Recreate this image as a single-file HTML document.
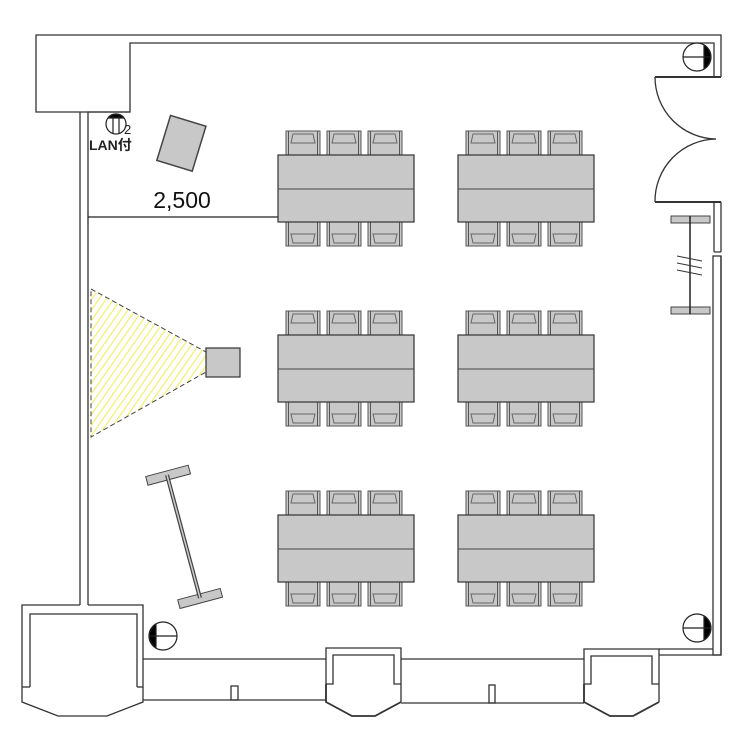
<!DOCTYPE html>
<html><head><meta charset="utf-8"><style>html,body{margin:0;padding:0;background:#fff}svg{display:block}</style></head><body>
<svg width="750" height="750" viewBox="0 0 750 750" xmlns="http://www.w3.org/2000/svg">
<defs>
<pattern id="hatch" width="6" height="6" patternUnits="userSpaceOnUse" patternTransform="rotate(35)">
<rect width="6" height="6" fill="#fff"/><line x1="0" y1="0" x2="0" y2="6" stroke="#f4ef70" stroke-width="2.5"/></pattern>
<g id="chairT">
<rect x="0" y="0" width="34" height="25" fill="#c8c8c8" stroke="#555" stroke-width="1"/>
<line x1="2.5" y1="0" x2="2.5" y2="25" stroke="#555" stroke-width="1"/><line x1="31.5" y1="0" x2="31.5" y2="25" stroke="#555" stroke-width="1"/>
<path d="M5,12 L7,3 L27,3 L29,12 Z" fill="none" stroke="#666" stroke-width="1"/>
</g>
<g id="chairB">
<rect x="0" y="0" width="34" height="25" fill="#c8c8c8" stroke="#555" stroke-width="1"/>
<line x1="2.5" y1="0" x2="2.5" y2="25" stroke="#555" stroke-width="1"/><line x1="31.5" y1="0" x2="31.5" y2="25" stroke="#555" stroke-width="1"/>
<path d="M5,13 L7,22 L27,22 L29,13 Z" fill="none" stroke="#666" stroke-width="1"/>
</g>
<g id="tbl">
<use href="#chairT" x="8" y="-24"/><use href="#chairT" x="49" y="-24"/><use href="#chairT" x="90" y="-24"/>
<use href="#chairB" x="8" y="66"/><use href="#chairB" x="49" y="66"/><use href="#chairB" x="90" y="66"/>
<rect x="0" y="0" width="136" height="67" fill="#c8c8c8" stroke="#333" stroke-width="1.2"/>
<line x1="0" y1="34" x2="136" y2="34" stroke="#444"/>
</g>
</defs>
<g fill="none" stroke="#333" stroke-width="1.3">
<polyline points="130,112 36,112 36,35 721,35 721,77"/>
<polyline points="88,605 88,112 130,112 130,43 714,43 714,77"/>
<line x1="80" y1="112" x2="80" y2="605"/>
<line x1="655" y1="77" x2="721" y2="77" stroke-width="2"/>
<line x1="655" y1="202" x2="721" y2="202" stroke-width="2"/>
<path d="M655,77 A62,62 0 0 0 716,139"/>
<path d="M655,202 A62,62 0 0 1 716,139"/>
<rect x="714" y="202" width="7" height="50" rx="1"/>
<rect x="713" y="256" width="8" height="399"/>
<polyline points="80,605 22,605 22,702 58,716 107,716 143,702 143,605 88,605"/>
<polyline points="30,687 30,614 137,614 137,687"/>
<line x1="22" y1="687" x2="30" y2="687"/><line x1="137" y1="687" x2="143" y2="687"/>
<line x1="143" y1="659" x2="326" y2="659"/>
<line x1="143" y1="700" x2="326" y2="700"/>
<rect x="231" y="686" width="7" height="14"/>
<polyline points="326,700 326,648 401,648 401,702"/>
<polyline points="326,684 333,684 333,655 394,655 394,684 401,684"/>
<polyline points="326,684 326,702 352,716 375,716 401,702" stroke-width="1.8"/>
<line x1="401" y1="659" x2="584" y2="659"/>
<line x1="401" y1="703" x2="584" y2="703"/>
<rect x="489" y="685" width="6" height="18"/>
<polyline points="584,703 584,649 659,649 659,702"/>
<polyline points="584,684 591,684 591,656 652,656 652,684 659,684"/>
<polyline points="584,684 584,702 610,716 633,716 659,702" stroke-width="1.8"/>
<line x1="659" y1="649" x2="713" y2="649"/>
<polyline points="659,655 721,655 721,256"/>
</g>
<g stroke="#222" stroke-width="1.2">
<circle cx="697" cy="57" r="14" fill="#fff"/><path d="M704,45 A14,14 0 0 1 704,69 Z" fill="#000"/><line x1="683" y1="57" x2="711" y2="57"/>
<circle cx="697" cy="628" r="14" fill="#fff"/><path d="M704,616 A14,14 0 0 1 704,640 Z" fill="#000"/><line x1="683" y1="628" x2="711" y2="628"/>
<circle cx="163" cy="636" r="14" fill="#fff"/><path d="M156,624 A14,14 0 0 0 156,648 Z" fill="#000"/><line x1="149" y1="636" x2="177" y2="636"/>
<circle cx="116" cy="124" r="10" fill="#fff"/><path d="M108,118 A10,10 0 0 1 124,118 Z" fill="#000"/><line x1="113" y1="116" x2="113" y2="134"/><line x1="119" y1="116" x2="119" y2="134"/>
</g>
<text x="124" y="134" font-family="Liberation Sans, sans-serif" font-size="13" fill="#222">2</text>
<text x="89" y="150" font-family="Liberation Sans, 'Noto Sans CJK JP', sans-serif" font-size="14" font-weight="bold" fill="#222">LAN付</text>
<rect x="163" y="120" width="37" height="47" fill="#c8c8c8" stroke="#444" stroke-width="1.5" transform="rotate(17 182 143)"/>
<line x1="88" y1="217" x2="278" y2="217" stroke="#222" stroke-width="1.2"/>
<line x1="88" y1="210" x2="88" y2="225" stroke="#222"/>
<text x="182" y="208" text-anchor="middle" font-family="Liberation Sans, sans-serif" font-size="23" fill="#111">2,500</text>
<use href="#tbl" x="278" y="155"/><use href="#tbl" x="458" y="155"/>
<use href="#tbl" x="278" y="335"/><use href="#tbl" x="458" y="335"/>
<use href="#tbl" x="278" y="515"/><use href="#tbl" x="458" y="515"/>
<polygon points="91,289 206,352 206,372 91,437" fill="url(#hatch)" stroke="#444" stroke-dasharray="5,3"/>
<rect x="206" y="348" width="34" height="29" fill="#c8c8c8" stroke="#333" stroke-width="1.2"/>
<g transform="rotate(-15 167 475)"><rect x="146" y="471" width="44" height="9" fill="#c8c8c8" stroke="#444"/></g>
<g transform="rotate(-15 200 598)"><rect x="178" y="594" width="44" height="9" fill="#c8c8c8" stroke="#444"/></g>
<line x1="167" y1="475" x2="200" y2="598" stroke="#444" stroke-width="4"/>
<line x1="167" y1="475" x2="200" y2="598" stroke="#ccc" stroke-width="1.5"/>
<rect x="671" y="216" width="39" height="7" fill="#c8c8c8" stroke="#444"/>
<rect x="671" y="307" width="39" height="7" fill="#c8c8c8" stroke="#444"/>
<line x1="690" y1="216" x2="690" y2="314" stroke="#222" stroke-width="1.5"/>
<g stroke="#333"><line x1="677" y1="256" x2="702" y2="261"/><line x1="677" y1="263" x2="702" y2="268"/><line x1="677" y1="270" x2="702" y2="275"/></g>
</svg>
</body></html>
